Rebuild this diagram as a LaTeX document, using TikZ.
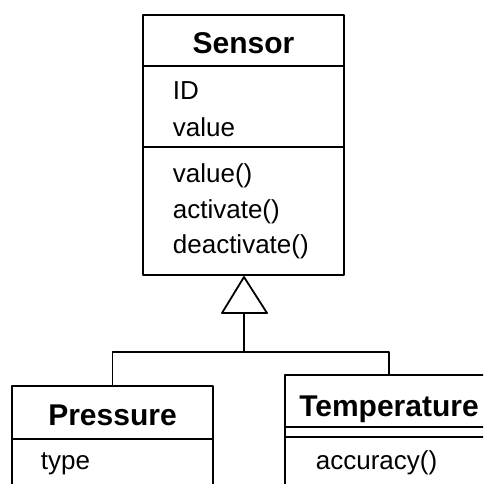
\documentclass[tikz,border=0pt]{standalone}
\usepackage{fontspec}
\setmainfont{Liberation Sans}
\usetikzlibrary{positioning,calc}

\tikzset{
  classbox/.style={draw, line width=1.8pt, fill=white, inner sep=0pt, outer sep=0pt, anchor=north west},
  classname/.style={font=\fontsize{30}{34}\selectfont\bfseries, anchor=base, inner sep=0pt},
  member/.style={font=\fontsize{26}{32}\selectfont, anchor=base west, inner sep=0pt},
}

\begin{document}
\begin{tikzpicture}[x=1pt, y=-1pt, line cap=round, line join=round, line width=1.8pt]
		\useasboundingbox (0,0) rectangle (483,484);
		\clip (0,0) rectangle (483,484);
		% base class
		\node [classbox, minimum width=201pt, minimum height=260pt] (sensor) at (143,15) {};
		\draw ($(sensor.north west)+(0,51)$) -- ($(sensor.north east)+(0,51)$);
		\draw ($(sensor.north west)+(0,132)$) -- ($(sensor.north east)+(0,132)$);
		% sub classes
		\node [classbox, minimum width=201pt, minimum height=150pt] (pressure) at (12,386) {};
		\draw ($(pressure.north west)+(0,53)$) -- ($(pressure.north east)+(0,53)$);
		\node [classbox, minimum width=208pt, minimum height=150pt] (temperature) at (285,375) {};
		\draw ($(temperature.north west)+(0,52)$) -- ($(temperature.north east)+(0,52)$);
		\draw ($(temperature.north west)+(0,62)$) -- ($(temperature.north east)+(0,62)$);
		% generalization
		\coordinate (apex) at ($(sensor.south)+(0.5,2)$);
		\coordinate (base) at ($(apex)+(0,36)$);
		\coordinate (joint) at ($(base)+(0,39)$);
		\draw [fill=white] (apex) -- ($(base)+(-22,0)$) -- ($(base)+(23,0)$) -- cycle;
		\draw (base) -- (joint);
		\draw (joint) -| (pressure.north);
		\draw (joint) -| (temperature.north);
		% names
		\node [classname] (sensorname) at (243.5,54) {Sensor};
		\node [classname] (pressurename) at (112.5,425) {Pressure};
		\node [classname] (temperaturename) at (389,416) {Temperature};
		% members
		\node [member] (sensorid) at (172,100) {ID};
		\node [member] (sensorvalue) at (172,136) {value};
		\node [member] (sensorget) at (172,182) {value()};
		\node [member] (sensoron) at (172,218) {activate()};
		\node [member] (sensoroff) at (172,253) {deactivate()};
		\node [member] (pressuretype) at (40,469) {type};
		\node [member] (temperatureacc) at (315,469) {accuracy()};
	\end{tikzpicture}
\end{document}
